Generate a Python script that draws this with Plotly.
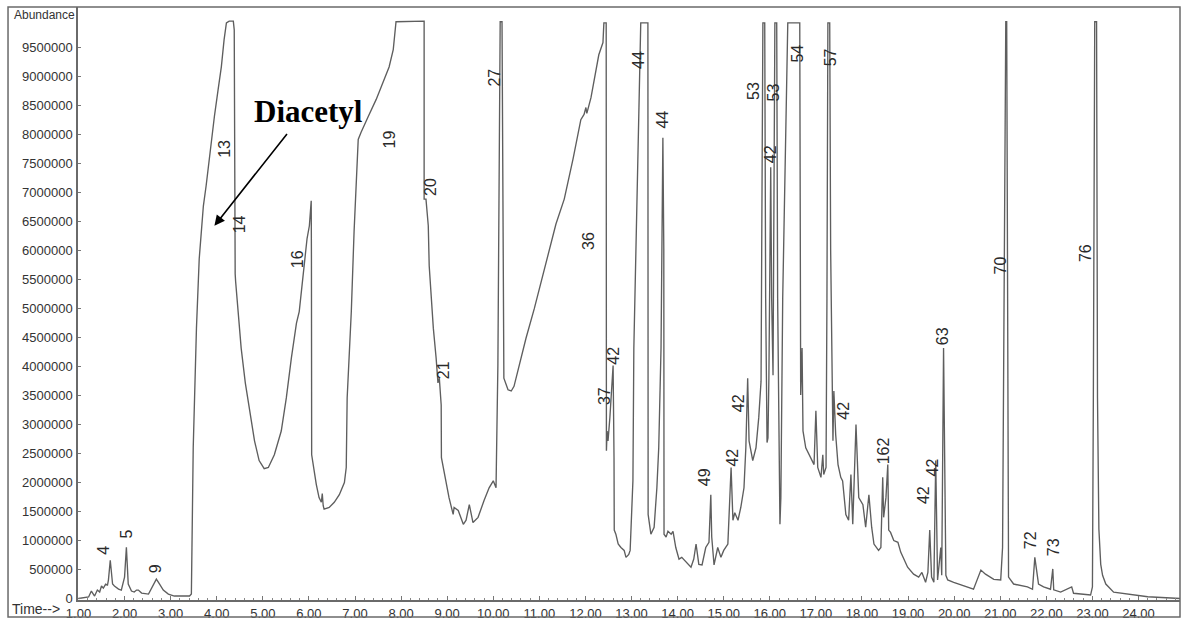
import plotly.graph_objects as go

# Total ion chromatogram: retention time (min) vs abundance, read segment by segment.
rt_early = [1.00, 1.22, 1.28, 1.35, 1.41, 1.46, 1.50, 1.54, 1.59, 1.63, 1.65, 1.69, 1.74, 1.78,
            1.87, 1.93, 2.00, 2.04, 2.08, 2.15, 2.21, 2.26, 2.30, 2.37, 2.52, 2.63, 2.69, 2.76,
            2.84, 2.95, 3.08, 3.41, 3.45]
ab_early = [0, 26000, 129000, 43000, 146000, 112000, 215000, 180000, 249000, 232000, 318000,
            661000, 249000, 215000, 163000, 146000, 369000, 884000, 249000, 129000, 112000,
            146000, 146000, 94000, 77000, 232000, 335000, 249000, 146000, 77000, 43000, 43000,
            77000]

rt_solvent = [3.49, 3.56, 3.62, 3.67, 3.71, 3.77, 3.86, 3.95, 4.03, 4.10, 4.16, 4.21, 4.27, 4.36,
              4.38, 4.385, 4.39, 4.395, 4.40, 4.41, 4.47, 4.53, 4.62, 4.69, 4.75, 4.82, 4.92,
              5.03, 5.12, 5.25, 5.40, 5.51, 5.62, 5.73, 5.79, 5.90, 5.96, 6.01, 6.05, 6.055,
              6.058, 6.06, 6.16, 6.22, 6.27, 6.29, 6.31, 6.33, 6.44, 6.55, 6.66, 6.77, 6.81,
              6.83, 6.92, 6.98, 7.07, 7.13, 7.29, 7.46, 7.57, 7.74, 7.83, 7.89, 8.50]
ab_solvent = [2600000, 4660000, 5860000, 6380000, 6770000, 7120000, 7750000, 8320000, 8780000,
              9170000, 9640000, 9930000, 9960000, 9960000, 9810000, 6200000, 6330000, 5830000,
              5600000, 5470000, 4950000, 4320000, 3720000, 3370000, 3030000, 2720000, 2380000,
              2240000, 2260000, 2480000, 2890000, 3460000, 4150000, 4750000, 4950000, 5740000,
              6210000, 6430000, 6860000, 5860000, 3460000, 2480000, 1970000, 1740000, 1660000,
              1810000, 1600000, 1540000, 1570000, 1660000, 1790000, 2000000, 2260000, 3460000,
              4950000, 6330000, 7920000, 8040000, 8320000, 8610000, 8830000, 9170000, 9470000,
              9950000, 9960000]

rt_mid = [8.50, 8.54, 8.57, 8.59, 8.61, 8.65, 8.70, 8.76, 8.80, 8.83, 8.85, 8.87, 8.875, 8.93,
          9.04, 9.13, 9.15, 9.24, 9.35, 9.41, 9.48, 9.56, 9.67, 9.80, 9.91, 10.00, 10.06, 10.10,
          10.15, 10.19, 10.21, 10.23, 10.32, 10.39, 10.45, 10.60, 10.71, 10.89, 11.04, 11.19,
          11.36, 11.54, 11.73, 11.90, 11.97, 12.01, 12.03, 12.12, 12.29, 12.38, 12.40, 12.45]
ab_mid = [6890000, 6890000, 6630000, 6430000, 5740000, 5180000, 4660000, 4150000, 3720000,
          3800000, 3460000, 3340000, 2430000, 2210000, 1740000, 1450000, 1570000, 1520000,
          1280000, 1350000, 1620000, 1310000, 1400000, 1690000, 1910000, 2030000, 1910000,
          4020000, 9950000, 9950000, 6890000, 3800000, 3600000, 3580000, 3660000, 4150000,
          4490000, 5000000, 5470000, 5910000, 6460000, 6890000, 7580000, 8260000, 8350000,
          8470000, 8370000, 8640000, 9380000, 9590000, 9930000, 9930000]

rt_late = [12.452, 12.455, 12.47, 12.49, 12.53, 12.60, 12.62, 12.625, 12.66, 12.71, 12.77, 12.84,
           12.88, 12.94, 12.97, 13.03, 13.05, 13.10, 13.14, 13.18, 13.20, 13.355, 13.357, 13.36,
           13.42, 13.49, 13.55, 13.59, 13.64, 13.66, 13.68, 13.70, 13.705, 13.75, 13.79, 13.86,
           13.90, 13.96, 14.03, 14.09, 14.18, 14.29, 14.35, 14.40, 14.46, 14.53, 14.61, 14.68,
           14.72, 14.74, 14.79, 14.87, 14.94, 15.00, 15.09, 15.16, 15.20, 15.24, 15.31, 15.37,
           15.44, 15.48, 15.52, 15.55, 15.63, 15.70, 15.76, 15.81]
ab_late = [5180000, 2550000, 2890000, 2720000, 3120000, 4020000, 2430000, 1180000, 1110000,
           940000, 880000, 830000, 710000, 760000, 830000, 2030000, 4320000, 6030000, 7750000,
           9290000, 9930000, 9930000, 5180000, 1450000, 1110000, 1230000, 1910000, 2600000,
           4320000, 6030000, 7950000, 6030000, 1110000, 1060000, 1160000, 1110000, 1160000,
           880000, 680000, 710000, 630000, 540000, 680000, 940000, 590000, 580000, 880000,
           970000, 1790000, 1060000, 580000, 880000, 710000, 830000, 940000, 2260000, 1350000,
           1480000, 1350000, 1570000, 1910000, 2600000, 3800000, 2720000, 2380000, 2600000,
           3120000, 3750000]

rt_cluster = [15.83, 15.85, 15.89, 15.91, 15.94, 15.96, 15.98, 16.00, 16.02, 16.04, 16.07, 16.09,
              16.11, 16.15, 16.17, 16.22, 16.24, 16.28, 16.35, 16.39, 16.65, 16.655, 16.67,
              16.70, 16.72, 16.78, 16.85, 16.91, 16.96, 17.00, 17.04, 17.11, 17.15, 17.17, 17.22,
              17.24, 17.26, 17.30, 17.32, 17.37, 17.39, 17.43, 17.48, 17.54, 17.58, 17.65, 17.71,
              17.76, 17.80, 17.87, 17.93, 18.02, 18.08, 18.15, 18.21, 18.26, 18.36, 18.41, 18.45,
              18.47, 18.52, 18.56, 18.58, 18.62, 18.69, 18.78, 18.84, 18.99]
ab_cluster = [6890000, 9930000, 9930000, 5180000, 2690000, 2770000, 3800000, 6030000, 7440000,
              5180000, 3850000, 6890000, 9930000, 9930000, 5180000, 1280000, 1740000, 5180000,
              8610000, 9930000, 9930000, 5180000, 3510000, 4320000, 2890000, 2600000, 2480000,
              2380000, 2310000, 3240000, 2260000, 2090000, 2480000, 2140000, 2260000, 5180000,
              9930000, 9930000, 6030000, 2720000, 3580000, 2820000, 2310000, 2090000, 2030000,
              1450000, 1350000, 2140000, 1280000, 3000000, 1740000, 1620000, 1230000, 1790000,
              1230000, 940000, 830000, 880000, 2090000, 1400000, 1740000, 2310000, 1180000,
              1140000, 1000000, 970000, 800000, 540000]

rt_tail = [19.12, 19.23, 19.30, 19.38, 19.43, 19.47, 19.51, 19.56, 19.60, 19.64, 19.69, 19.71,
           19.73, 19.77, 19.82, 19.86, 19.99, 20.29, 20.42, 20.58, 20.68, 20.86, 21.01, 21.05,
           21.07, 21.12, 21.14, 21.16, 21.18, 21.29, 21.59, 21.70, 21.75, 21.83, 21.94, 22.09,
           22.14, 22.16, 22.31, 22.55, 22.59, 22.96, 23.00, 23.02, 23.05, 23.09, 23.11, 23.14,
           23.18, 23.22, 23.29, 23.46, 23.76, 24.20, 24.91]
ab_tail = [420000, 370000, 450000, 280000, 450000, 1180000, 370000, 280000, 2380000, 320000,
           710000, 880000, 400000, 4320000, 400000, 320000, 280000, 200000, 160000, 490000,
           420000, 330000, 320000, 880000, 3460000, 9950000, 9950000, 3460000, 370000, 250000,
           200000, 160000, 710000, 250000, 200000, 160000, 510000, 150000, 110000, 200000, 90000,
           60000, 200000, 3460000, 9950000, 9950000, 3460000, 1200000,
           590000, 400000, 250000, 110000, 80000, 30000, 0]

retention_time = rt_early + rt_solvent + rt_mid + rt_late + rt_cluster + rt_tail
abundance = ab_early + ab_solvent + ab_mid + ab_late + ab_cluster + ab_tail

# Hand-written peak numbers: (label, time, abundance)
peak_labels = [
    ("4", 1.54, 830000), ("5", 2.04, 1110000), ("9", 2.69, 510000),
    ("13", 4.17, 7750000), ("14", 4.49, 6460000), ("16", 5.77, 5860000),
    ("19", 7.74, 7920000), ("20", 8.65, 7100000), ("21", 8.91, 3940000),
    ("27", 10.02, 8990000), ("36", 12.08, 6170000), ("37", 12.40, 3490000),
    ("42", 12.62, 4190000), ("44", 13.16, 9290000), ("44", 13.68, 8260000),
    ("49", 14.57, 2090000), ("42", 15.20, 2430000), ("42", 15.31, 3370000),
    ("53", 15.65, 8750000), ("53", 16.07, 8730000), ("42", 16.02, 7660000),
    ("54", 16.61, 9400000), ("57", 17.32, 9330000), ("42", 17.61, 3240000),
    ("162", 18.47, 2550000), ("42", 19.34, 1780000), ("42", 19.54, 2260000),
    ("63", 19.75, 4520000), ("70", 21.01, 5740000), ("76", 22.85, 5950000),
    ("72", 21.66, 1000000), ("73", 22.16, 880000),
]

y_ticks = list(range(0, 10000000, 500000))
x_ticks = list(range(1, 25))

fig = go.Figure()
fig.add_trace(go.Scatter(
    x=retention_time, y=abundance, mode="lines",
    line=dict(color="#5e5e5e", width=1.35),
    hoverinfo="skip", showlegend=False,
))

annotations = []
for text, t, a in peak_labels:
    annotations.append(dict(
        x=t, y=a, xref="x", yref="y", text=text, showarrow=False, textangle=-90,
        font=dict(family="Liberation Sans", size=16, color="#2a2a2a"),
    ))

# Diacetyl call-out with arrow
annotations.append(dict(
    x=3.95, y=6430000, ax=5.55, ay=8040000, xref="x", yref="y", axref="x", ayref="y",
    text="", showarrow=True, arrowhead=2, arrowsize=1.3, arrowwidth=1.6, arrowcolor="#000000",
))
annotations.append(dict(
    x=5.99, y=8400000, xref="x", yref="y", text="<b>Diacetyl</b>", showarrow=False,
    font=dict(family="Liberation Serif", size=31, color="#000000"),
))
annotations.append(dict(
    x=-0.06, y=0.987, xref="paper", yref="paper", xanchor="left", yanchor="middle",
    text="Abundance", showarrow=False,
    font=dict(family="Liberation Sans", size=12, color="#333333"),
))
annotations.append(dict(
    x=-0.0617, y=-0.0155, xref="paper", yref="paper", xanchor="left", yanchor="middle",
    text="Time-->", showarrow=False,
    font=dict(family="Liberation Sans", size=14, color="#333333"),
))

fig.update_layout(
    width=1182, height=623,
    margin=dict(l=78, r=2, t=7, b=20),
    paper_bgcolor="white", plot_bgcolor="white",
    annotations=annotations,
    shapes=[dict(type="rect", xref="paper", yref="paper", x0=-0.0635, x1=1.0, y0=-0.0285, y1=1.0,
                 line=dict(color="#6a6a6a", width=1.5), layer="above")],
    xaxis=dict(
        range=[0.99, 24.9], tickvals=x_ticks, tickformat=".2f",
        showgrid=False, zeroline=False, showline=True, linecolor="#6a6a6a", linewidth=1.5,
        ticks="inside", ticklen=4, tickcolor="#777777", ticklabelstandoff=1,
        minor=dict(dtick=0.2, ticks="inside", ticklen=2, tickcolor="#888888"),
        tickfont=dict(family="Liberation Sans", size=13, color="#333333"),
    ),
    yaxis=dict(
        range=[-25700, 10204000], tickvals=y_ticks, tickformat="d",
        showgrid=False, zeroline=False, showline=True, linecolor="#6a6a6a", linewidth=1.5,
        ticks="inside", ticklen=3, tickcolor="#777777", ticklabelstandoff=1,
        tickfont=dict(family="Liberation Sans", size=13, color="#333333"),
    ),
)

fig.write_html("out.html")
